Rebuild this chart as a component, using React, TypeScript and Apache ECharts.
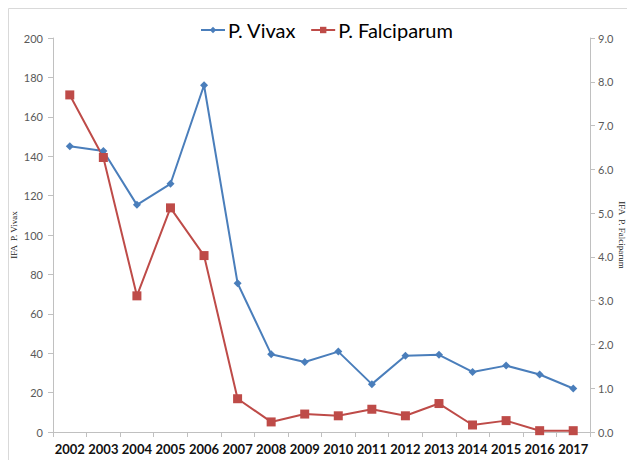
import React, { useEffect, useRef } from "react";
import * as echarts from "echarts";

const years = ["2002","2003","2004","2005","2006","2007","2008","2009","2010","2011","2012","2013","2014","2015","2016","2017"];
const vivax = [145, 142.6, 115.3, 126, 176, 75.5, 39.5, 35.5, 40.8, 24.3, 38.7, 39.2, 30.5, 33.7, 29.2, 22.1];
const falciparum = [7.7, 6.27, 3.11, 5.12, 4.03, 0.76, 0.23, 0.41, 0.37, 0.52, 0.37, 0.65, 0.16, 0.26, 0.03, 0.03];

const BLUE = "#4A7EBB";
const RED = "#BE4B48";

export default function App() {
  const ref = useRef<HTMLDivElement>(null);
  useEffect(() => {
    document.body.style.margin = "0";
    const chart = echarts.init(ref.current!, null, { renderer: "svg" });
    chart.setOption({
      animation: false,
      backgroundColor: "#ffffff",
      graphic: [
        {
          type: "rect",
          shape: { x: 8.5, y: 8.5, width: 640, height: 470 },
          style: { fill: "none", stroke: "#d9d9d9", lineWidth: 1 },
          silent: true,
        },
      ],
      legend: {
        top: 15,
        left: 195,
        itemGap: 14,
        itemWidth: 24,
        itemHeight: 8,
        textStyle: { fontFamily: "Lato", fontSize: 20, color: "#000", padding: [0, 0, 0, -2] },
        data: ["P. Vivax", "P. Falciparum"],
      },
      grid: { left: 53, right: 37, top: 38, bottom: 28, containLabel: false, outerBoundsMode: "none" },
      xAxis: {
        type: "category",
        data: years,
        boundaryGap: true,
        axisLine: { lineStyle: { color: "#c0c0c0", width: 1 } },
        axisTick: { show: true, alignWithLabel: false, length: 5, lineStyle: { color: "#c0c0c0" } },
        axisLabel: { fontFamily: "Lato", fontWeight: "bold", fontSize: 13, color: "#111", margin: 10, interval: 0 },
      },
      yAxis: [
        {
          type: "value",
          min: 0,
          max: 200,
          interval: 20,
          name: "IFA  P. Vivax",
          nameLocation: "middle",
          nameRotate: 90,
          nameGap: 35,
          nameMoveOverlap: false,
          nameTextStyle: { fontFamily: "Liberation Serif", fontSize: 9, color: "#222" },
          axisLine: { show: true, lineStyle: { color: "#c0c0c0" } },
          axisTick: { show: true, length: 5, lineStyle: { color: "#c0c0c0" } },
          axisLabel: { fontFamily: "Lato", fontSize: 11, color: "#595959", margin: 10 },
          splitLine: { show: false },
        },
        {
          type: "value",
          min: 0,
          max: 9,
          interval: 1,
          name: "IFA  P. Falciparum",
          nameLocation: "middle",
          nameRotate: -90,
          nameGap: 27,
          nameMoveOverlap: false,
          nameTextStyle: { fontFamily: "Liberation Serif", fontSize: 9, color: "#222" },
          axisLine: { show: true, lineStyle: { color: "#c0c0c0" } },
          axisTick: { show: true, length: 5, lineStyle: { color: "#c0c0c0" } },
          axisLabel: { fontFamily: "Lato", fontSize: 11, color: "#595959", margin: 8, formatter: (v: number) => v.toFixed(1) },
          splitLine: { show: false },
        },
      ],
      series: [
        {
          name: "P. Vivax",
          type: "line",
          yAxisIndex: 0,
          data: vivax,
          symbol: "diamond",
          symbolSize: 8,
          lineStyle: { color: BLUE, width: 2 },
          itemStyle: { color: BLUE },
        },
        {
          name: "P. Falciparum",
          type: "line",
          yAxisIndex: 1,
          data: falciparum,
          symbol: "rect",
          symbolSize: 9,
          lineStyle: { color: RED, width: 2 },
          itemStyle: { color: RED },
        },
      ],
    });
    return () => chart.dispose();
  }, []);
  return <div ref={ref} style={{ width: 627, height: 460 }} />;
}
